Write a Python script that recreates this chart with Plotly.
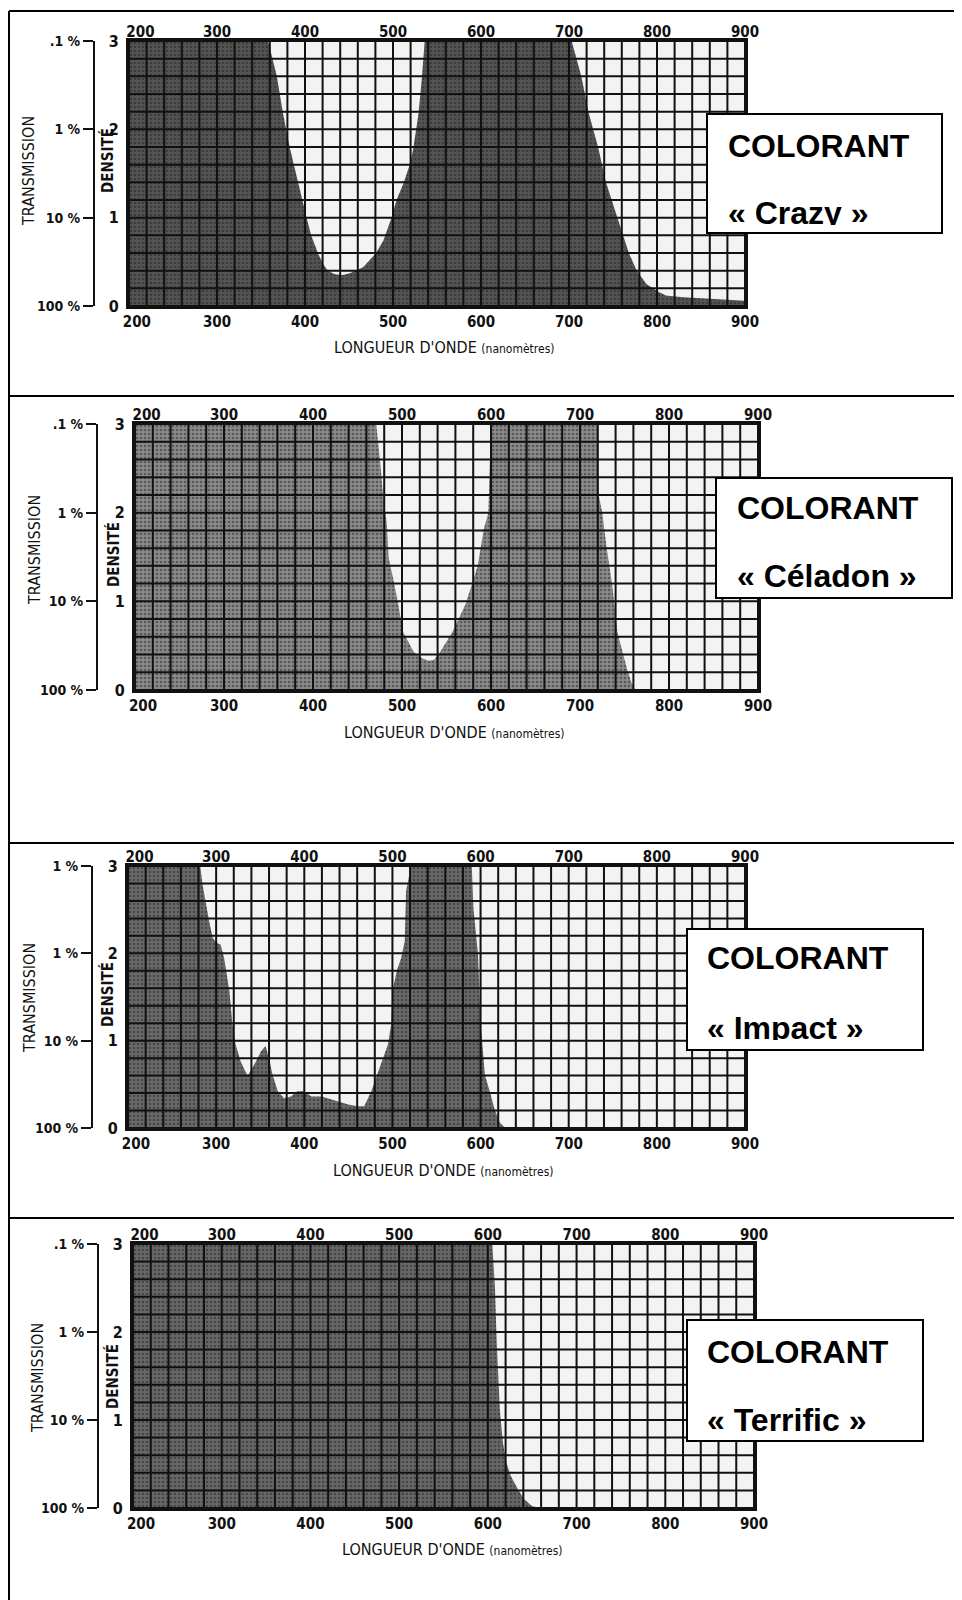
import plotly.graph_objects as go

W, H = 962, 1600
OFF = 8  # page body margin of the html page
FIG_W, FIG_H = W - OFF, H - OFF

# ---------------- data ----------------
WAVELENGTH_TICKS = [200, 300, 400, 500, 600, 700, 800, 900]
WAVELENGTH_TEXT = ["200", "300", "400", "500", "600", "700", "800", "900"]
DENSITY_TICKS = [0, 1, 2, 3]
TRANSMISSION_TEXT = ["100 %", "10 %", "1 %", ".1 %"]
TRANSMISSION_TEXT_IMPACT = ["100 %", "10 %", "1 %", "1 %"]
GRID_NM = list(range(200, 901, 20))
GRID_DENSITY = [0, 0.2, 0.4, 0.6, 0.8, 1.0, 1.2, 1.4, 1.6, 1.8, 2.0, 2.2, 2.4, 2.6, 2.8, 3.0]

crazy_nm = [200, 358, 368, 375, 383, 392, 402, 407, 415, 421, 426, 434, 443, 451, 458, 466,
            480, 489, 498, 504, 512, 519, 523, 529, 533, 536, 700, 703, 714, 722, 733, 742,
            755, 768, 777, 788, 800, 810, 830, 860, 900]
crazy_d = [3, 3, 2.6, 2.18, 1.78, 1.39, 0.99, 0.8, 0.59, 0.47, 0.4, 0.36, 0.35, 0.37, 0.4, 0.44,
           0.59, 0.74, 0.99, 1.2, 1.39, 1.6, 1.78, 2.18, 2.6, 3, 3, 3, 2.6, 2.2, 1.8, 1.4,
           1.0, 0.6, 0.4, 0.25, 0.17, 0.12, 0.1, 0.08, 0.06]

celadon_nm = [200, 471, 475, 479, 483, 485, 490, 496, 501, 513, 522, 530, 536, 543, 557, 571,
              576, 585, 592, 597, 600, 719, 721, 725, 730, 736, 740, 742, 747, 753, 758, 762, 900]
celadon_d = [3, 3, 2.62, 2.17, 1.87, 1.49, 1.26, 0.96, 0.66, 0.43, 0.36, 0.33, 0.34, 0.43, 0.66, 0.96,
             1.11, 1.4, 1.82, 2.0, 3, 3, 2.2, 2.0, 1.6, 1.2, 0.84, 0.65, 0.46, 0.23, 0.08, 0, 0]

impact_nm = [200, 282, 284.5, 288, 292, 296, 300, 305, 309, 315, 318.6, 322, 328, 334, 336,
             345, 351, 356, 360, 364, 370, 377, 385, 392, 400, 408, 420, 430, 440, 450, 461,
             468, 476, 487, 495, 498.5, 500, 505, 510, 514, 515.5, 521, 590, 592, 597, 600,
             605, 611, 616, 622, 628, 900]
impact_d = [3, 3, 2.79, 2.58, 2.37, 2.18, 2.12, 2.1, 1.95, 1.57, 1.18, 0.96, 0.76, 0.63, 0.6,
            0.76, 0.88, 0.94, 0.8, 0.61, 0.42, 0.34, 0.36, 0.42, 0.42, 0.36, 0.36, 0.33, 0.3, 0.27, 0.25,
            0.25, 0.42, 0.73, 0.96, 1.18, 1.57, 1.8, 1.95, 2.14, 2.71, 3, 3, 2.5, 2.0, 1.2,
            0.6, 0.4, 0.21, 0.06, 0, 0]

terrific_nm = [200, 605, 608, 610, 613.5, 617, 621, 626, 634, 641, 650, 660, 900]
terrific_d = [3, 3, 2.5, 1.88, 1.12, 0.74, 0.51, 0.36, 0.21, 0.1, 0.02, 0, 0]

DYE_NAMES = ["« Crazy »", "« Céladon »", "« Impact »", "« Terrific »"]

# ---------------- layout / style ----------------
COND = "Liberation Sans Narrow, Arial Narrow, DejaVu Sans Condensed, sans-serif"
BOLD = "Liberation Sans, Arial, Helvetica, sans-serif"
FIRST_LABEL_NUDGE_TOP = 13      # nm: the printed "200" labels sit inside the frame
FIRST_LABEL_NUDGE_BOTTOM = 9

PANELS = [
    dict(nm=crazy_nm, d=crazy_d, plot=(129, 745, 41, 306), brack=94, trans=TRANSMISSION_TEXT,
         fill="#545454", title=(444, 348), transtitle=(29, 171), dens=(108, 161),
         box=(707, 114, 942, 233), txt=(728, 157, 224)),
    dict(nm=celadon_nm, d=celadon_d, plot=(135, 758, 424, 690), brack=97, trans=TRANSMISSION_TEXT,
         fill="#8a8a8a", title=(454, 732), transtitle=(35, 550), dens=(113, 555),
         box=(716, 478, 952, 598), txt=(737, 519, 587)),
    dict(nm=impact_nm, d=impact_d, plot=(128, 745, 866, 1128), brack=92, trans=TRANSMISSION_TEXT_IMPACT,
         fill="#6a6a6a", title=(443, 1170), transtitle=(30, 998), dens=(107, 995),
         box=(687, 929, 923, 1050), txt=(707, 969, 1039)),
    dict(nm=terrific_nm, d=terrific_d, plot=(133, 754, 1244, 1508), brack=98, trans=TRANSMISSION_TEXT,
         fill="#686868", title=(452, 1549), transtitle=(37, 1378), dens=(112, 1377),
         box=(687, 1320, 923, 1441), txt=(707, 1363, 1431)),
]


def px(x):
    return (x - OFF) / FIG_W


def py(y):
    return 1 - (y - OFF) / FIG_H


top_label_pos = [WAVELENGTH_TICKS[0] + FIRST_LABEL_NUDGE_TOP] + WAVELENGTH_TICKS[1:]
bottom_label_pos = [WAVELENGTH_TICKS[0] + FIRST_LABEL_NUDGE_BOTTOM] + WAVELENGTH_TICKS[1:]

fig = go.Figure()
layout = dict(
    width=FIG_W, height=FIG_H, autosize=False,
    margin=dict(l=0, r=0, t=0, b=0, pad=0, autoexpand=False),
    paper_bgcolor="white", plot_bgcolor="#f3f3f3",
    showlegend=False,
)
annotations = []
shapes = []

for i, p in enumerate(PANELS, start=1):
    x0, x1, y0, y1 = p["plot"]
    xa, ya = f"x{i}", f"y{i}"
    xt, yt = f"x{i + 4}", f"y{i + 4}"
    # filled density curve
    fig.add_trace(go.Scatter(
        x=p["nm"], y=p["d"], xaxis=xa, yaxis=ya, mode="lines",
        line=dict(width=0, color=p["fill"]), fill="tozeroy", fillcolor=p["fill"],
        fillpattern=dict(shape=".", size=4, solidity=0.35, fgcolor="#262626", bgcolor=p["fill"]),
        hoverinfo="skip",
    ))
    # grid on top
    gx, gy = [], []
    for v in GRID_NM:
        gx += [v, v, None]
        gy += [0, 3, None]
    for d in GRID_DENSITY:
        gx += [200, 900, None]
        gy += [d, d, None]
    fig.add_trace(go.Scatter(x=gx, y=gy, xaxis=xa, yaxis=ya, mode="lines",
                             line=dict(color="#111111", width=2), hoverinfo="skip"))
    # invisible anchors so the top-label axis and the transmission axis get drawn
    fig.add_trace(go.Scatter(x=WAVELENGTH_TICKS[:2], y=DENSITY_TICKS[:2], xaxis=xt, yaxis=ya,
                             mode="markers", marker=dict(opacity=0), hoverinfo="skip"))
    fig.add_trace(go.Scatter(x=WAVELENGTH_TICKS[:2], y=DENSITY_TICKS[:2], xaxis=xa, yaxis=yt,
                             mode="markers", marker=dict(opacity=0), hoverinfo="skip"))

    xdom = [px(x0), px(x1)]
    ydom = [py(y1), py(y0)]
    tickfont = dict(family=COND, size=15, color="#111", weight="bold")
    layout[f"xaxis{i}"] = dict(
        domain=xdom, anchor=ya, range=[200, 900], tickmode="array",
        tickvals=bottom_label_pos, ticktext=WAVELENGTH_TEXT, ticks="",
        showgrid=False, zeroline=False,
        showline=True, linewidth=3, linecolor="#111", mirror=True, tickfont=tickfont,
    )
    layout[f"yaxis{i}"] = dict(
        domain=ydom, anchor=xa, range=[0, 3], tickmode="array",
        tickvals=DENSITY_TICKS, ticks="outside", ticklen=4, tickcolor="rgba(0,0,0,0)",
        showgrid=False, zeroline=False,
        showline=True, linewidth=3, linecolor="#111", mirror=True,
        tickfont=dict(family=COND, size=16, color="#111", weight="bold"),
    )
    # top wavelength labels
    layout[f"xaxis{i + 4}"] = dict(
        overlaying=xa, anchor=ya, side="top", range=[200, 900], tickmode="array",
        tickvals=top_label_pos, ticktext=WAVELENGTH_TEXT, ticks="",
        showgrid=False, zeroline=False, showline=False, tickfont=tickfont,
    )
    # transmission bracket
    layout[f"yaxis{i + 4}"] = dict(
        overlaying=ya, anchor="free", position=px(p["brack"]), side="left",
        range=[0, 3], tickmode="array", tickvals=DENSITY_TICKS, ticktext=p["trans"],
        ticks="outside", ticklen=10, tickwidth=2, tickcolor="#111",
        showline=True, linewidth=2, linecolor="#111", showgrid=False, zeroline=False,
        tickfont=dict(family=COND, size=14, color="#111", weight="bold"),
    )

    tx, ty = p["title"]
    annotations.append(dict(
        xref="paper", yref="paper", x=px(tx), y=py(ty), xanchor="center", yanchor="middle",
        text="LONGUEUR D'ONDE <span style='font-size:12px'>(nanomètres)</span>",
        showarrow=False, font=dict(family=COND, size=16, color="#111"),
    ))
    ttx, tty = p["transtitle"]
    annotations.append(dict(
        xref="paper", yref="paper", x=px(ttx), y=py(tty), xanchor="center", yanchor="middle",
        text="TRANSMISSION", textangle=-90, showarrow=False,
        font=dict(family=COND, size=16, color="#111"),
    ))
    dx, dy = p["dens"]
    annotations.append(dict(
        xref="paper", yref="paper", x=px(dx), y=py(dy), xanchor="center", yanchor="middle",
        text="DENSITÉ", textangle=-90, showarrow=False,
        font=dict(family=COND, size=15, color="#111", weight="bold"),
    ))

    bx0, by0, bx1, by1 = p["box"]
    shapes.append(dict(type="rect", xref="paper", yref="paper", layer="above",
                       x0=px(bx0), x1=px(bx1), y0=py(by1), y1=py(by0),
                       fillcolor="white", line=dict(color="black", width=2)))
    lx, b1, b2 = p["txt"]
    annotations.append(dict(
        xref="paper", yref="paper", x=px(lx), y=py(b1 - 29), xanchor="left", yanchor="top",
        text="COLORANT", showarrow=False, borderpad=0, borderwidth=0,
        font=dict(family=BOLD, size=32, color="black", weight="bold"),
    ))
    annotations.append(dict(
        xref="paper", yref="paper", x=px(lx), y=py(b2 - 29), xanchor="left", yanchor="top",
        text=DYE_NAMES[i - 1], showarrow=False, borderpad=0, borderwidth=0,
        height=30, valign="top", align="left",
        font=dict(family=BOLD, size=32, color="black", weight="bold"),
    ))

# table frame lines
shapes.append(dict(type="line", xref="paper", yref="paper", x0=px(9), x1=px(9),
                   y0=py(11), y1=py(1600), line=dict(color="black", width=2)))
for yy in [11, 396, 843, 1218]:
    shapes.append(dict(type="line", xref="paper", yref="paper", x0=px(9), x1=px(962),
                       y0=py(yy), y1=py(yy), line=dict(color="black", width=2)))

layout["annotations"] = annotations
layout["shapes"] = shapes
fig.update_layout(**layout)
fig.write_html("out.html")
